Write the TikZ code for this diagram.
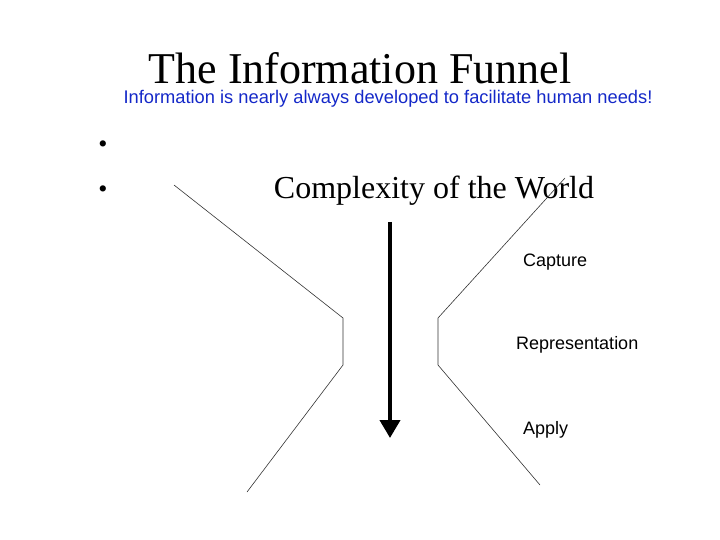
\documentclass[tikz,border=0pt]{standalone}
\usepackage{fontspec}
\setmainfont{Liberation Serif}
\newfontfamily\arialf{Liberation Sans}
\usetikzlibrary{arrows.meta}
\definecolor{subblue}{RGB}{20,40,200}
\begin{document}
\begin{tikzpicture}[x=1pt,y=-1pt,
  lbl/.style={font=\arialf\fontsize{18}{20}\selectfont, anchor=west, inner sep=0},
  fun/.style={line width=0.6pt, black!80}]
\useasboundingbox (0,0) rectangle (720,540);
\node[font=\fontsize{44}{48}\selectfont, inner sep=0] (title) at (360,68) {The Information Funnel};
\node[font=\arialf\fontsize{18.3}{20}\selectfont, text=subblue, inner sep=0] (sub) at (388,99) {Information is nearly always developed to facilitate human needs!};
\node[font=\fontsize{26}{30}\selectfont, inner sep=0] (b1) at (103,147) {•};
\node[font=\fontsize{26}{30}\selectfont, inner sep=0] (b2) at (103,192) {•};
\node[font=\fontsize{32}{36}\selectfont, inner sep=0] (cw) at (434,191) {Complexity of the World};
\node[lbl] (cap) at (523,262) {Capture};
\node[lbl] (rep) at (516,345) {Representation};
\node[lbl] (app) at (523,430) {Apply};
\coordinate (l1) at (174,185); \coordinate (l2) at (343,318);
\coordinate (l3) at (343,365); \coordinate (l4) at (247,492);
\coordinate (r1) at (565,178); \coordinate (r2) at (438,318);
\coordinate (r3) at (438,365); \coordinate (r4) at (540,485);
\draw[fun] (l1) -- (l2) -- (l3) -- (l4);
\draw[fun] (r1) -- (r2) -- (r3) -- (r4);
\coordinate (a1) at (390,222); \coordinate (a2) at (390,438);
\draw[line width=4pt, -{Triangle[length=18pt,width=20pt]}] (a1) -- (a2);
\end{tikzpicture}
\end{document}
